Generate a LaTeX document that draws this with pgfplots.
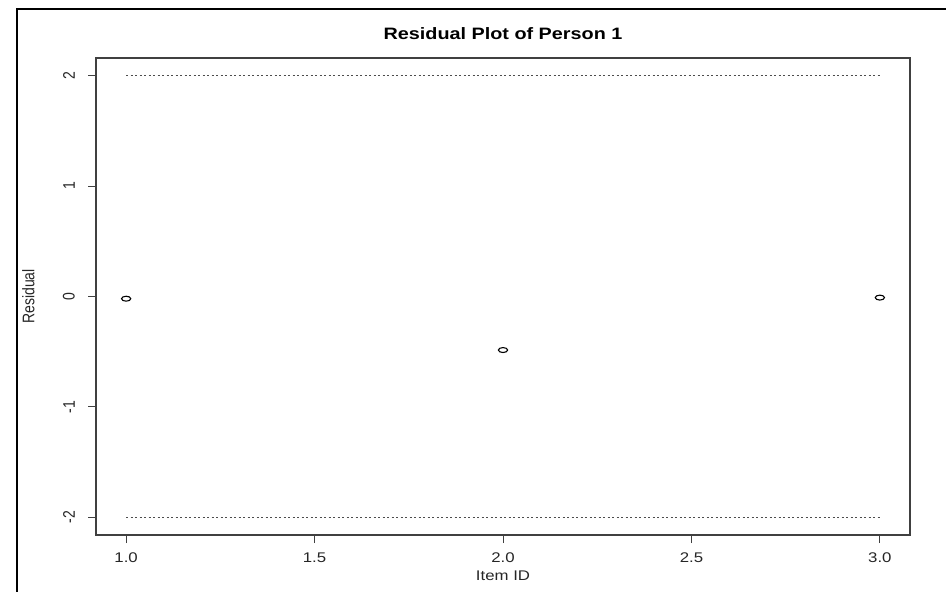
\documentclass[border=0pt]{standalone}
\usepackage{fontspec}
\setmainfont{Liberation Sans}
\usepackage{graphicx}
\usepackage{pgfplots}
\pgfplotsset{compat=1.18}
\begin{document}
\begin{tikzpicture}[x=1pt,y=1pt]
\useasboundingbox (0,0) rectangle (946,592);
\draw[line width=1.3pt] (17,0) -- (17,583) -- (946,583);
\begin{axis}[
  at={(96pt,57pt)}, anchor=south west,
  scale only axis, width=814pt, height=477pt,
  xmin=0.92, xmax=3.08, ymin=-2.16, ymax=2.16,
  axis line style={black!75, line width=1.2pt},
  tick align=outside, tick pos=left,
  major tick length=8pt,
  tick style={black!75, line width=1pt},
  xtick={1,1.5,2,2.5,3},
  xticklabels={\scalebox{1.2}[1]{1.0},\scalebox{1.2}[1]{1.5},\scalebox{1.2}[1]{2.0},\scalebox{1.2}[1]{2.5},\scalebox{1.2}[1]{3.0}},
  ytick={-2,-1,0,1,2},
  yticklabels={\scalebox{1}[1.2]{-2},\scalebox{1}[1.2]{-1},\scalebox{1}[1.2]{0},\scalebox{1}[1.2]{1},\scalebox{1}[1.2]{2}},
  xticklabel style={anchor=north, inner sep=0pt, yshift=-10pt, text=black!85},
  yticklabel style={rotate=90, anchor=south, inner sep=0pt, yshift=13pt, text=black!85},
  font=\fontsize{14}{16}\selectfont,
  title={\scalebox{1.2}[1]{\bfseries Residual Plot of Person 1}},
  title style={at={(axis description cs:0.5,1.038)}, anchor=center, font=\fontsize{16.5}{19}\selectfont},
  xlabel={\scalebox{1.2}[1]{Item ID}},
  xlabel style={at={(axis description cs:0.5,-0.085)}, anchor=center, text=black!85},
  ylabel={\scalebox{1}[1.2]{Residual}},
  ylabel style={at={(axis description cs:-0.083,0.5)}, anchor=center, rotate=0, text=black!85},
]
\addplot[black!70, line width=1pt, dash pattern=on 2pt off 2.5pt] coordinates {(1,2) (3,2)};
\addplot[black!70, line width=1pt, dash pattern=on 2pt off 2.5pt] coordinates {(1,-2) (3,-2)};
\addplot[only marks, mark=o, mark size=3.3pt, mark options={xscale=1.4, yscale=0.75, line width=1.1pt, black}] coordinates {(1,-0.02) (2,-0.485) (3,-0.01)};
\end{axis}
\end{tikzpicture}
\end{document}
